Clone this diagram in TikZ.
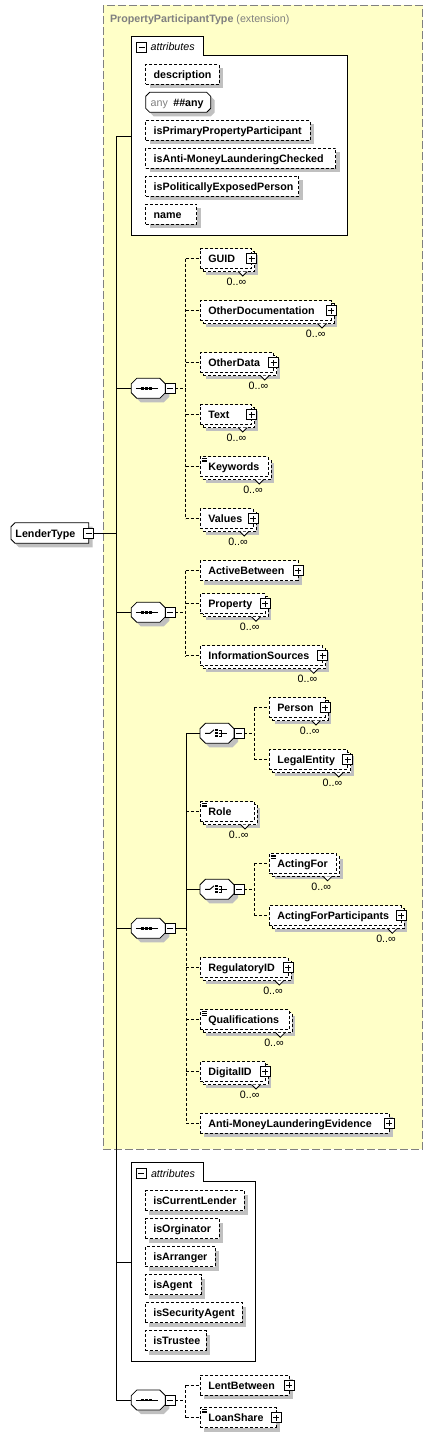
\documentclass[tikz,border=0pt]{standalone}
\usepackage{fontspec}
\setmainfont{Liberation Sans}
\usetikzlibrary{shadows}
\definecolor{bgyellow}{RGB}{255,255,200}
\definecolor{shadowgray}{RGB}{192,192,192}
\definecolor{framegray}{RGB}{128,128,128}
\tikzset{
  fnt/.style={font=\fontsize{10.7}{12}\selectfont},
  bfnt/.style={font=\fontsize{10.7}{12}\selectfont\bfseries},
  ifnt/.style={font=\fontsize{10.7}{12}\selectfont\itshape},
  txt/.style={inner sep=0pt, outer sep=0pt, text height=8pt, text depth=0pt, anchor=west},
  sline/.style={line width=0.9pt, black},
  dline/.style={line width=0.9pt, black, dash pattern=on 3pt off 2pt},
  shad/.style={general shadow={fill=shadowgray, shadow xshift=4pt, shadow yshift=-4pt}},
  oneocc/.style={shad},
  manyocc/.style={general shadow={fill=shadowgray, shadow xshift=6pt, shadow yshift=-6pt},
    general shadow={draw=black, fill=white, shadow xshift=3pt, shadow yshift=-3pt}},
  elembox/.style={rectangle, draw=black, line width=0.8pt, dash pattern=on 3pt off 2pt, fill=white,
    minimum height=20pt, inner xsep=8pt, inner ysep=0pt, outer sep=0pt, anchor=west, align=left,
    text height=8pt, text depth=0pt, bfnt},
  pmbox/.style={rectangle, draw=black, solid, line width=0.8pt, fill=white, minimum size=10pt, inner sep=0pt, outer sep=0pt},
  comp/.style={rectangle, minimum width=34pt, minimum height=20pt, inner sep=0pt, outer sep=0pt},
  octline/.style={draw=black, fill=white, line width=0.8pt, solid, shad},
  mult/.style={txt, anchor=east, fnt},
}
\newcommand\elem[6][oneocc]{%
  \pgfmathsetmacro\tw{#4-#3-16}%
  \node[elembox, #1, text width=\tw pt] (#2) at (#3,#5) {\mbox{#6}};}
\newcommand\octo[2]{%
  \path[octline] ([xshift=#2pt]#1.north west) -- ([xshift=-#2pt]#1.north east) -- ([yshift=-#2pt]#1.north east)
   -- ([yshift=#2pt]#1.south east) -- ([xshift=-#2pt]#1.south east) -- ([xshift=#2pt]#1.south west)
   -- ([yshift=#2pt]#1.south west) -- ([yshift=-#2pt]#1.north west) -- cycle;}
\newcommand\pbox[1]{%
  \node[pmbox] (#1-p) at (#1.east) {};
  \draw[line width=0.8pt] ([xshift=-3pt]#1-p.center) -- ([xshift=3pt]#1-p.center)
    ([yshift=-3pt]#1-p.center) -- ([yshift=3pt]#1-p.center);}
\newcommand\minusat[2]{%
  \node[pmbox, anchor=west] (#1) at (#2) {};
  \draw[line width=0.8pt] ([xshift=-3pt]#1.center) -- ([xshift=3pt]#1.center);}
\newcommand\notch[1]{\draw[line width=0.8pt, fill=white, solid] ([shift={(-13.5,3)}]#1.south east) -- ++(4.5,4.5) -- ++(4.5,-4.5);}
\newcommand\occ[1]{\node[mult] (#1-o) at ([shift={(-5.5,22.7)}]#1.east) {0..∞};}
\newcommand\simp[1]{\draw[line width=0.6pt, solid] ([shift={(1.5,1.6)}]#1.north west) -- ++(5,0)
  ([shift={(1.5,3.4)}]#1.north west) -- ++(5,0) ([shift={(1.5,5.2)}]#1.north west) -- ++(5,0);}
\newcommand\seqsym[1]{%
  \draw[line width=0.9pt] ([shift={(4.5,0)}]#1.west) -- ([shift={(27,0)}]#1.west);
  \foreach \sq in {-3.8,0,3.8} \fill ([shift={(15+\sq,0)}]#1.west) ++(-1.4,-1.4) rectangle ++(2.8,2.8);}
\newcommand\chsym[1]{%
  \draw[line width=0.9pt] ([shift={(5,0)}]#1.west) -- ++(5,0) -- ++(4,-3.5);
  \foreach \sq in {-3,0,3} \fill ([shift={(16.5,\sq)}]#1.west) ++(-1.1,-1.1) rectangle ++(2.2,2.2);
  \draw[line width=0.9pt] ([shift={(18.5,-3)}]#1.west) -- ++(3,0) -- ++(0,6) -- ++(-3,0)
    ([shift={(18.5,0)}]#1.west) -- ++(8,0);}
\begin{document}
\begin{tikzpicture}[x=1pt,y=-1pt]
\useasboundingbox (0,0) rectangle (433,1437);
% extension frame
\node[draw=framegray, fill=bgyellow, line width=1pt, dash pattern=on 8pt off 3pt, minimum width=319.4pt, minimum height=1143.8pt, inner sep=0pt, outer sep=0pt] (ext) at (263,577.4) {};
\node[txt, bfnt, text=framegray] (ext-t) at (110,18.3) {PropertyParticipantType \mdseries(extension)};
% trunk
\coordinate (trunk-t) at (116.3,136.3);
\coordinate (trunk-b) at (116.3,1400);
\draw[sline] (trunk-t) -- (trunk-b);
% lender
\node[rectangle, minimum width=77.7pt, minimum height=20.6pt, inner sep=0pt, outer sep=0pt] (lender) at (49.85,533) {};
\path[octline] ([xshift=4pt]lender.north west) -- (lender.north east) -- (lender.south east) -- ([xshift=4pt]lender.south west) -- ([yshift=4pt]lender.south west) -- ([yshift=-4pt]lender.north west) -- cycle;
\node[txt, bfnt] (lender-t) at (15.5,533) {LenderType};
\node[pmbox] (lender-m) at (lender.east) {};
\draw[line width=0.8pt] ([xshift=-3pt]lender-m.center) -- ([xshift=3pt]lender-m.center);
\draw[sline] (lender-m.east) -- (lender-m.east -| trunk-t);
% attributes 1
\draw[line width=0.9pt, fill=white] (131.7,36.3) -- (203,36.3) -- (203,55.3) -- (347.7,55.3) -- (347.7,235.3) -- (131.7,235.3) -- cycle;
\coordinate (attr1) at (131.7,136.3);
\draw[sline] (trunk-t) -- (attr1);
\minusat{attr1-m}{136.7,47}
\node[txt, ifnt] (attr1-t) at (150.7,47) {attributes};
\elem{a-desc}{145.7}{219}{74.3}{description}
\node[rectangle, minimum width=65pt, minimum height=20pt, inner sep=0pt, outer sep=0pt] (a-any) at (178.2,102.3) {};
\octo{a-any}{4}
\node[txt, fnt, text=framegray] (a-any-t1) at (150.7,102.3) {any};
\node[txt, bfnt] (a-any-t2) at (173.3,102.3) {\#\#any};
\elem{a-prim}{145.7}{310}{130.3}{isPrimaryPropertyParticipant}
\elem{a-aml}{145.7}{335.7}{158.3}{isAnti-MoneyLaunderingChecked}
\elem{a-pep}{145.7}{298.7}{186.3}{isPoliticallyExposedPerson}
\elem{a-name}{145.7}{196.7}{214.3}{name}
% sequence 1
\node[comp] (seq1) at (148.3,388.3) {};
\octo{seq1}{5.5}
\seqsym{seq1}
\minusat{seq1-m}{seq1.east}
\draw[sline] (seq1.west -| trunk-t) -- (seq1.west);
\coordinate (bus1) at (185.5,388.3);
\draw[dline] (seq1-m.east) -- (bus1);
\elem[manyocc]{guid}{200.3}{251.7}{258.5}{GUID}
\elem[manyocc]{odoc}{200.3}{331}{310.5}{OtherDocumentation}
\elem[manyocc]{odata}{200.3}{273.7}{362.5}{OtherData}
\elem[manyocc]{txtel}{200.3}{251.7}{414.5}{Text}
\elem[manyocc]{kw}{200.3}{268.3}{466.5}{Keywords}
\elem[manyocc]{vals}{200.3}{253.3}{518.5}{Values}
\draw[dline] (guid.west -| bus1) -- (vals.west -| bus1);
\foreach \n in {guid,odoc,odata,txtel,kw,vals} {\draw[dline] (\n.west -| bus1) -- (\n.west); \notch{\n} \occ{\n}}
\foreach \n in {guid,odoc,odata,txtel,vals} {\pbox{\n}}
\simp{kw}
% sequence 2
\node[comp] (seq2) at (148.3,612.3) {};
\octo{seq2}{5.5}
\seqsym{seq2}
\minusat{seq2-m}{seq2.east}
\draw[sline] (seq2.west -| trunk-t) -- (seq2.west);
\coordinate (bus2) at (185.5,612.3);
\draw[dline] (seq2-m.east) -- (bus2);
\elem{actb}{200.3}{298}{570.5}{ActiveBetween}
\elem[manyocc]{prop}{200.3}{265}{603.8}{Property}
\elem[manyocc]{infos}{200.3}{322.7}{655.8}{InformationSources}
\draw[dline] (actb.west -| bus2) -- (infos.west -| bus2);
\foreach \n in {actb,prop,infos} {\draw[dline] (\n.west -| bus2) -- (\n.west); \pbox{\n}}
\foreach \n in {prop,infos} {\notch{\n} \occ{\n}}
% sequence 3
\node[comp] (seq3) at (148.3,928.3) {};
\octo{seq3}{5.5}
\seqsym{seq3}
\minusat{seq3-m}{seq3.east}
\draw[sline] (seq3.west -| trunk-t) -- (seq3.west);
\coordinate (bus3) at (186,928.3);
\draw[sline] (seq3-m.east) -- (bus3);
% choice 1
\node[comp] (ch1) at (217,733.3) {};
\octo{ch1}{5.5}
\chsym{ch1}
\minusat{ch1-m}{ch1.east}
\coordinate (cbus1) at (254.3,733.3);
\draw[dline] (ch1-m.east) -- (cbus1);
\elem[manyocc]{person}{269.3}{325}{707.5}{Person}
\elem[manyocc]{legal}{269.3}{347.7}{759.5}{LegalEntity}
\draw[dline] (person.west -| cbus1) -- (legal.west -| cbus1);
\foreach \n in {person,legal} {\draw[dline] (\n.west -| cbus1) -- (\n.west); \pbox{\n} \notch{\n} \occ{\n}}
\elem[manyocc]{role}{200.3}{254}{811.5}{Role}
\simp{role} \notch{role} \occ{role}
% choice 2
\node[comp] (ch2) at (217,889.3) {};
\octo{ch2}{5.5}
\chsym{ch2}
\minusat{ch2-m}{ch2.east}
\coordinate (cbus2) at (254.3,889.3);
\draw[dline] (ch2-m.east) -- (cbus2);
\elem[manyocc]{actfor}{269.3}{336.5}{863.3}{ActingFor}
\elem[manyocc]{afp}{269.3}{401.3}{915.8}{ActingForParticipants}
\draw[dline] (actfor.west -| cbus2) -- (afp.west -| cbus2);
\foreach \n in {actfor,afp} {\draw[dline] (\n.west -| cbus2) -- (\n.west); \notch{\n} \occ{\n}}
\simp{actfor} \pbox{afp}
\elem[manyocc]{regid}{200.3}{288.3}{967.5}{RegulatoryID}
\elem[manyocc]{qual}{200.3}{289.3}{1019.8}{Qualifications}
\elem[manyocc]{digid}{200.3}{265}{1071.5}{DigitalID}
\elem{amle}{200.3}{389}{1123.3}{Anti-MoneyLaunderingEvidence}
\draw[sline] (ch1.west -| bus3) -- (bus3);
\draw[dline] (bus3) -- (amle.west -| bus3);
\draw[sline] (ch1.west -| bus3) -- (ch1.west);
\draw[sline] (ch2.west -| bus3) -- (ch2.west);
\foreach \n in {role,regid,qual,digid,amle} {\draw[dline] (\n.west -| bus3) -- (\n.west);}
\foreach \n in {regid,qual,digid} {\notch{\n} \occ{\n}}
\foreach \n in {regid,digid,amle} {\pbox{\n}}
\simp{qual}
% attributes 2
\draw[line width=0.9pt, fill=white] (131.3,1162.3) -- (203.3,1162.3) -- (203.3,1181.7) -- (255.7,1181.7) -- (255.7,1361.3) -- (131.3,1361.3) -- cycle;
\coordinate (attr2) at (131.3,1262.7);
\draw[sline] (attr2 -| trunk-t) -- (attr2);
\minusat{attr2-m}{136,1173}
\node[txt, ifnt] (attr2-t) at (151,1173.3) {attributes};
\elem{b-cur}{145.3}{244}{1200.7}{isCurrentLender}
\elem{b-orig}{145.3}{219}{1228.7}{isOrginator}
\elem{b-arr}{145.3}{215}{1256.7}{isArranger}
\elem{b-agent}{145.3}{201}{1284.7}{isAgent}
\elem{b-sec}{145.3}{242}{1312.7}{isSecurityAgent}
\elem{b-trust}{145.3}{206}{1340.7}{isTrustee}
% sequence 4
\node[comp] (seq4) at (148.3,1400) {};
\octo{seq4}{5.5}
\seqsym{seq4}
\minusat{seq4-m}{seq4.east}
\draw[sline] (seq4.west -| trunk-t) -- (seq4.west);
\coordinate (bus4) at (185.7,1400);
\draw[dline] (seq4-m.east) -- (bus4);
\elem{lent}{200.3}{289.3}{1385}{LentBetween}
\elem{loan}{200.3}{276}{1417.5}{LoanShare}
\draw[dline] (lent.west -| bus4) -- (loan.west -| bus4);
\foreach \n in {lent,loan} {\draw[dline] (\n.west -| bus4) -- (\n.west); \pbox{\n}}
\simp{loan}
\end{tikzpicture}
\end{document}
